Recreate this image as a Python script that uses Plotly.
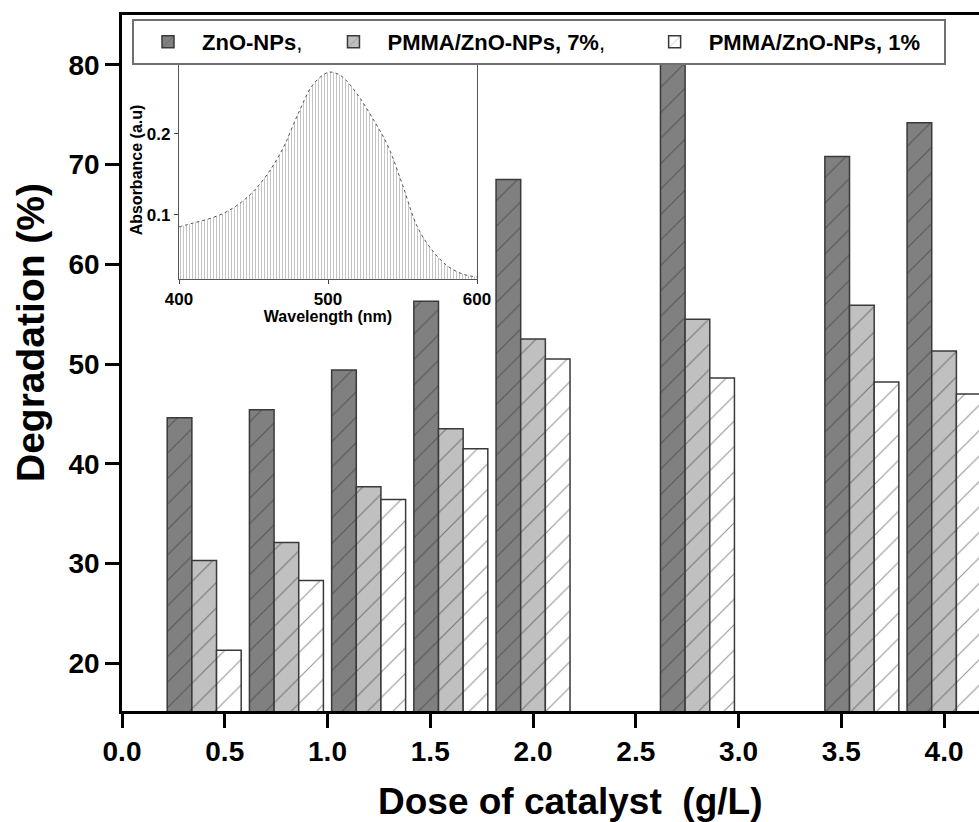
import plotly.graph_objects as go

# ---------------- data ----------------
dose = [0.4, 0.8, 1.2, 1.6, 2.0, 2.8, 3.6, 4.0]
zno = [44.6, 45.4, 49.4, 56.3, 68.5, 80.5, 70.8, 74.2]
pmma7 = [30.3, 32.1, 37.7, 43.5, 52.5, 54.5, 55.9, 51.3]
pmma1 = [21.3, 28.3, 36.4, 41.5, 50.5, 48.6, 48.2, 47.0]
series_names = ["<b>ZnO-NPs</b>,\u00a0\u00a0", "<b>PMMA/ZnO-NPs, 7%</b>,\u00a0\u00a0\u00a0\u00a0\u00a0",
                "<b>PMMA/ZnO-NPs, 1%</b>\u00a0\u00a0\u00a0"]

wavelength = [400, 410, 420, 430, 440, 450, 460, 470, 480, 490, 500,
              505, 510, 520, 530, 540, 550, 560, 570, 580, 590, 600]
absorbance = [0.085, 0.090, 0.095, 0.102, 0.113, 0.129, 0.152, 0.183, 0.225, 0.261, 0.276,
              0.275, 0.270, 0.248, 0.219, 0.186, 0.137, 0.085, 0.056, 0.037, 0.027, 0.023]

main_ticks = [0.0, 0.5, 1.0, 1.5, 2.0, 2.5, 3.0, 3.5, 4.0]
y_ticks = [20, 30, 40, 50, 60, 70, 80]
inset_xticks = [400, 500, 600]
inset_yticks = [0.1, 0.2]

# ---------------- styles ----------------
FONT = "Liberation Sans, Arial, sans-serif"
W, H = 979, 822
ML, MR, MT, MB = 122, 0, 15, 111
bar_w = 0.12
fills = ["#808080", "#c0c0c0", "#ffffff"]
offsets = [-0.18, -0.06, 0.06]

fig = go.Figure()
for name, vals, fc, off in zip(series_names, [zno, pmma7, pmma1], fills, offsets):
    fig.add_trace(go.Bar(
        x=dose, y=vals, name=name, width=bar_w, offset=off,
        marker=dict(color=fc, line=dict(color="#3a3a3a", width=1.5),
                    pattern=dict(shape="/", fgcolor="#2a2a2a", bgcolor=fc,
                                 size=18, solidity=0.06, fillmode="overlay")),
        xaxis="x", yaxis="y",
    ))

# inset spectrum
fig.add_trace(go.Scatter(
    x=wavelength, y=absorbance, mode="lines",
    line=dict(color="#555555", width=1, shape="spline", dash="dot"),
    fill="tozeroy", fillcolor="#ffffff",
    fillpattern=dict(shape="|", fgcolor="#8c8c8c", bgcolor="#ffffff", size=3, solidity=0.35),
    xaxis="x2", yaxis="y2", showlegend=False,
))

px_w = W - ML - MR
px_h = H - MT - MB
def xd(p):
    return (p - ML) / px_w
def yd(p):
    return (H - MB - p) / px_h

bold = dict(family=FONT, weight="bold", color="black")

fig.update_layout(
    width=W, height=H,
    margin=dict(l=ML, r=MR, t=MT, b=MB, autoexpand=False),
    paper_bgcolor="white", plot_bgcolor="white",
    barmode="overlay",
    font=dict(family=FONT, color="black"),
    xaxis=dict(
        domain=[0, 1], range=[0, 4.17], automargin=False,
        tickvals=main_ticks, tickformat=".1f",
        ticks="outside", ticklen=14, tickwidth=2.5, tickcolor="black",
        showline=True, linewidth=2.5, linecolor="black", mirror=True,
        showgrid=False, zeroline=False,
        tickfont=dict(size=28, **bold),
    ),
    yaxis=dict(
        domain=[0, 1], range=[15.2, 85], automargin=False,
        tickvals=y_ticks,
        ticks="outside", ticklen=14, tickwidth=2.5, tickcolor="black",
        showline=True, linewidth=2.5, linecolor="black",
        showgrid=False, zeroline=False,
        tickfont=dict(size=28, **bold),
    ),
    xaxis2=dict(
        domain=[xd(179), xd(477)], anchor="y2", range=[400, 600], automargin=False,
        tickvals=inset_xticks,
        ticks="outside", ticklen=4, tickwidth=1, tickcolor="#444",
        showline=True, linewidth=1.2, linecolor="#555", mirror=True,
        showgrid=False, zeroline=False,
        tickfont=dict(size=17, **bold),
        title=dict(text="Wavelength (nm)", font=dict(size=16, **bold), standoff=0),
    ),
    yaxis2=dict(
        domain=[yd(279), yd(61)], anchor="x2", range=[0.0206, 0.29], automargin=False,
        tickvals=inset_yticks, tickformat=".1f",
        ticks="outside", ticklen=4, tickwidth=1, tickcolor="#444",
        showline=True, linewidth=1.2, linecolor="#555", mirror=True,
        showgrid=False, zeroline=False,
        tickfont=dict(size=17, **bold),
        title=dict(text="Absorbance (a.u)", font=dict(size=16, **bold), standoff=0),
    ),
    legend=dict(
        orientation="h", x=xd(132), y=yd(19), xanchor="left", yanchor="top",
        bgcolor="white", bordercolor="#707070", borderwidth=2,
        font=dict(size=22, family=FONT, color="black"),
        itemwidth=58, tracegroupgap=0, traceorder="normal",
    ),
    annotations=[
        dict(text="Dose of catalyst  (g/L)", xref="paper", yref="paper",
             x=xd(570), y=yd(801), xanchor="center", yanchor="middle",
             showarrow=False, font=dict(size=37, **bold)),
        dict(text="Degradation (%)", xref="paper", yref="paper",
             x=xd(30), y=yd(333), xanchor="center", yanchor="middle", textangle=-90,
             showarrow=False, font=dict(size=39, **bold)),
    ],
)

fig.write_html("out.html")
